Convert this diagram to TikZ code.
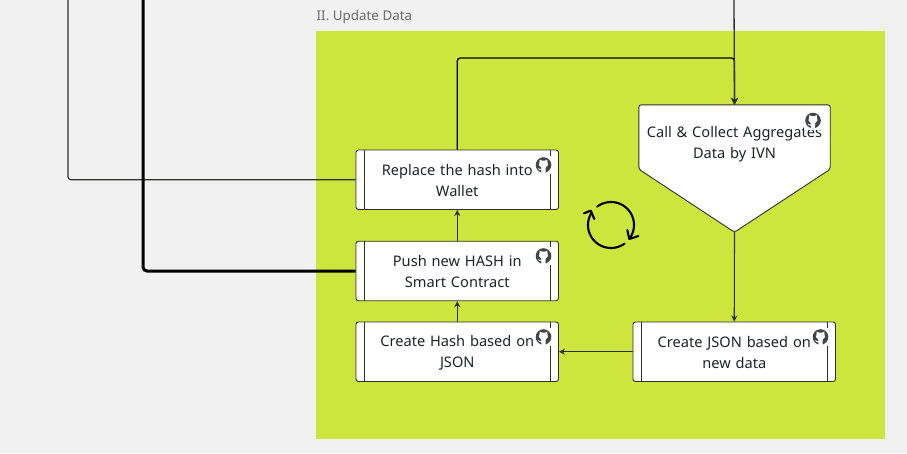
\documentclass[tikz,border=0pt]{standalone}
\usepackage{fontspec}
\setmainfont{Noto Sans}
\usetikzlibrary{arrows.meta}
\definecolor{pagebg}{HTML}{F1F1F1}
\definecolor{panel}{HTML}{CDE63D}
\definecolor{ink}{HTML}{1F2328}
\definecolor{edge}{HTML}{2E302C}
\definecolor{cap}{HTML}{6B6B6B}
\newcommand{\topgap}{\rule{0pt}{13pt}}
\tikzset{
  x=1pt,y=-1pt,
  procbox/.style={draw=edge,line width=0.9pt,fill=white,rounded corners=2.5pt,minimum width=202.5pt,minimum height=59.5pt,inner sep=0pt,text=ink,font=\fontsize{14.6}{21}\selectfont,align=center,text width=198pt},
  callbox/.style={minimum width=191pt,minimum height=127pt,inner sep=0pt},
  calltext/.style={text=ink,font=\fontsize{14.6}{21}\selectfont,align=center,text width=188pt,inner sep=0pt},
  link/.style={draw=edge,line width=1.1pt,rounded corners=3pt},
  linkin/.style={link,-{Stealth[length=6pt,width=6pt]}},
  blackin/.style={draw=black,line width=1.3pt,rounded corners=3pt,-{Stealth[length=7pt,width=7pt]}},
  cyclearc/.style={draw=black,line width=2.1pt,line cap=round,line join=round},
}
\newcommand{\sidebars}[1]{%
  \draw[edge,line width=0.9pt] ([xshift=8.5pt]#1.north west) -- ([xshift=8.5pt]#1.south west);
  \draw[edge,line width=0.9pt] ([xshift=-8.5pt]#1.north east) -- ([xshift=-8.5pt]#1.south east);}
\newcommand{\ghicon}[2]{%
  \begin{scope}[shift={(#1,#2)}]
    \fill[white] (-9,-9) rectangle (9,9);
    \fill[ink!85] (0,0) circle (7.8);
    \fill[white] (-3.9,-3.5) -- (-3.7,-5.4) -- (-1.6,-4.4) -- (1.6,-4.4) -- (3.7,-5.4) -- (3.9,-3.5)
       .. controls (5.2,-1.5) and (4.6,2) .. (2.2,2.6) -- (2.2,7.8) -- (-2.2,7.8) -- (-2.2,5.2)
       .. controls (-4,5.4) and (-5,4.6) .. (-5.5,3) .. controls (-4.5,3.4) and (-3.5,4.5) .. (-2.2,4) -- (-2.2,2.6)
       .. controls (-4.6,2) and (-5.2,-1.5) .. (-3.9,-3.5) -- cycle;
  \end{scope}}
\begin{document}
\begin{tikzpicture}
\useasboundingbox (0,0) rectangle (907,453);
\fill[pagebg] (0,0) rectangle (907,453);
\fill[panel] (316,31) rectangle (885,439);
\node[anchor=west,text=cap,inner sep=0pt,font=\fontsize{13.4}{15}\selectfont] (title) at (316.5,17.5) {II. Update Data};

\coordinate (topcall) at (734,0);
\coordinate (topthin) at (68,0);
\coordinate (topthick) at (143,0);

\node[procbox] (replace) at (457.25,179.75) {\topgap Replace the hash into\\Wallet};
\node[procbox] (push) at (457.25,271) {\topgap Push new HASH in\\Smart Contract};
\node[procbox] (hash) at (457.25,351.75) {\topgap Create Hash based on\\JSON};
\node[procbox] (json) at (734.25,351.75) {\topgap Create JSON based on\\new data};
\sidebars{replace}\sidebars{push}\sidebars{hash}\sidebars{json}

\node[callbox] (call) at (734.5,168.5) {};
\draw[edge,line width=0.9pt,fill=white,rounded corners=2.5pt]
  (call.north west) -- (call.north east) -- ([yshift=63pt]call.south east) -- (call.south)
  -- ([yshift=63pt]call.south west) -- cycle;
\node[calltext] (calllabel) at (734.5,144) {Call \& Collect Aggregates\\Data by IVN};

\draw[linkin] (call.south) -- (json.north);
\draw[linkin] (json.west) -- (hash.east);
\draw[linkin] (hash.north) -- (push.south);
\draw[linkin] (push.north) -- (replace.south);
\draw[link] (replace.west) -- (topthin |- replace.west) -- (topthin);
\draw[draw=black,line width=3pt,rounded corners=4pt] (push.west) -- (topthick |- push.west) -- (topthick);
\coordinate (bend) at (458,58);
\draw[blackin] (replace.north) -- (replace.north |- bend) -- (call.north |- bend) -- (call.north);
\draw[blackin,draw=edge] (topcall) -- (call.north);

\ghicon{543.5}{165}
\ghicon{543.5}{256}
\ghicon{543.5}{337}
\ghicon{813}{120.5}
\ghicon{820.5}{337}

\draw[cyclearc] plot[smooth,samples=30,domain=-127:34] ({611+23*cos(\x)},{225+23*sin(\x)});
\draw[cyclearc] plot[smooth,samples=30,domain=54:213] ({611+23*cos(\x)},{225+23*sin(\x)});
\draw[cyclearc] (627.3,230) -- (629.3,239) -- (638.3,236);
\draw[cyclearc] (584,213.3) -- (590.7,210.7) -- (594.3,219);
\end{tikzpicture}
\end{document}
